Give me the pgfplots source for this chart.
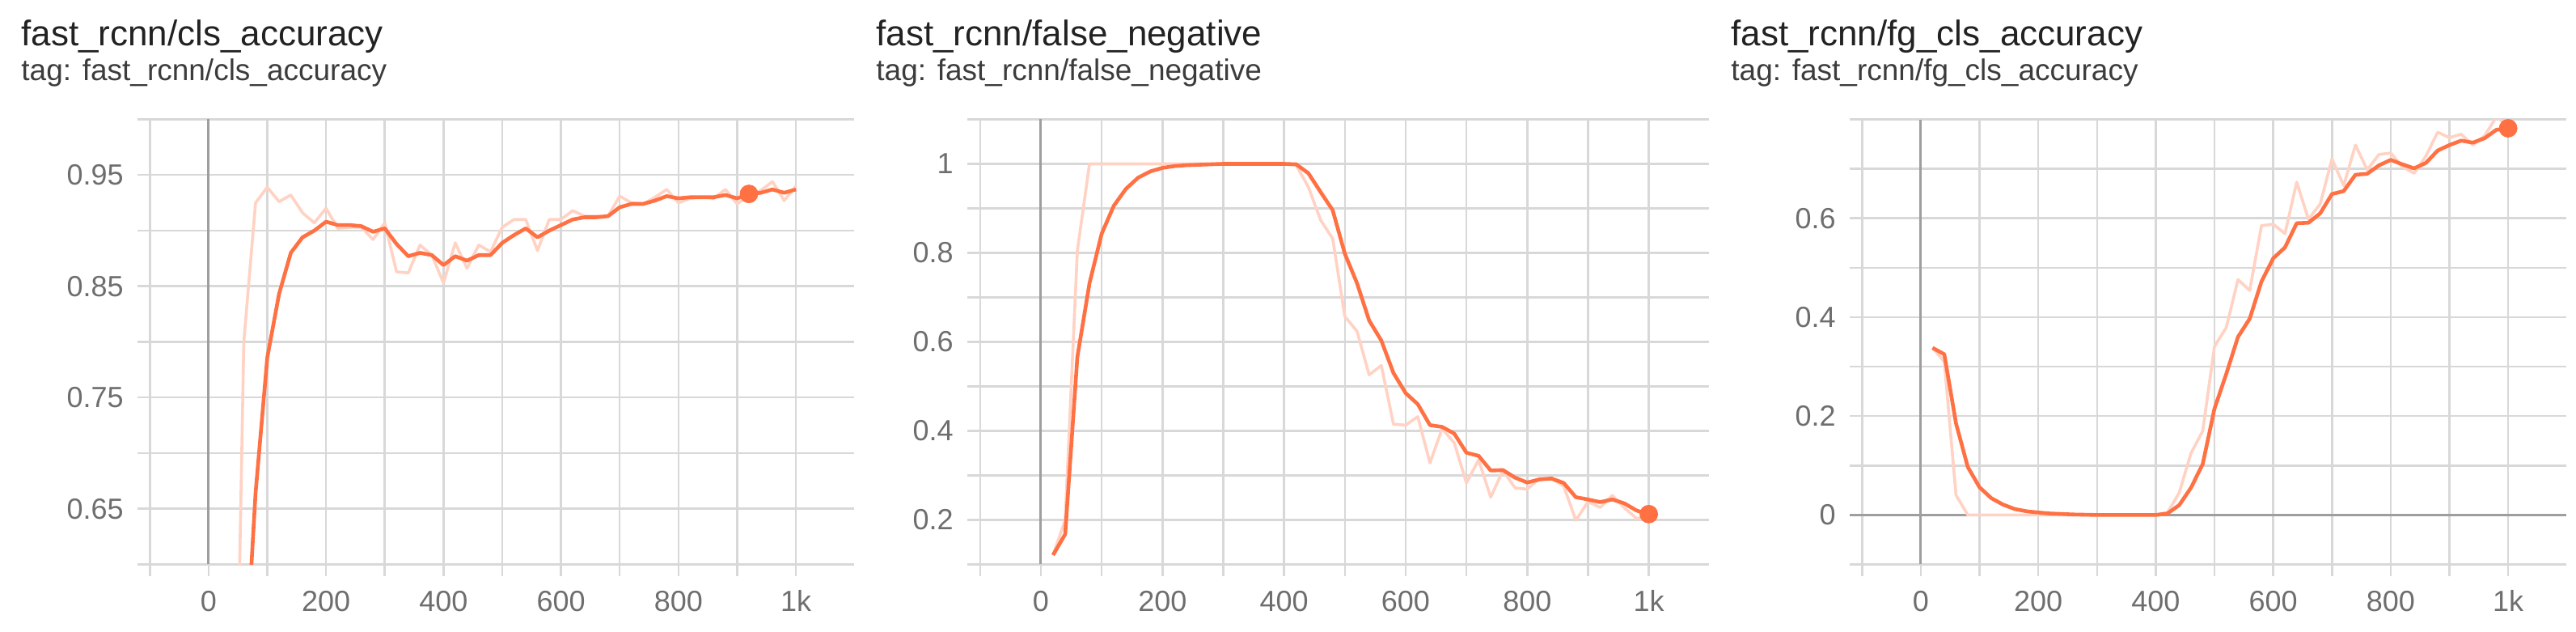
\documentclass[border=0pt]{standalone}
\usepackage{fontspec}
\setmainfont{Liberation Sans}
\usepackage{pgfplots}
\pgfplotsset{compat=1.18}
\usepackage{pgfplotstable}

\definecolor{tbor}{HTML}{FF7043}
\definecolor{tbraw}{HTML}{FFD2C4}
\definecolor{gridc}{HTML}{D8D8D8}
\definecolor{zeroc}{HTML}{9E9E9E}
\definecolor{titlec}{HTML}{222222}
\definecolor{subc}{HTML}{3C3C3C}
\definecolor{tickc}{HTML}{6E6E6E}

\pgfplotstableread{
x y
20 0.15
40 0.23
60 0.80
80 0.925
100 0.939
120 0.926
140 0.932
160 0.916
180 0.907
200 0.920
220 0.902
240 0.903
260 0.903
280 0.892
300 0.907
320 0.863
340 0.862
360 0.887
380 0.878
400 0.853
420 0.889
440 0.866
460 0.887
480 0.881
500 0.903
520 0.910
540 0.910
560 0.882
580 0.910
600 0.910
620 0.918
640 0.913
660 0.913
680 0.913
700 0.931
720 0.925
740 0.924
760 0.930
780 0.937
800 0.925
820 0.929
840 0.930
860 0.929
880 0.937
900 0.924
920 0.932
940 0.936
960 0.944
980 0.927
1000 0.940
}\rawA

\pgfplotstableread{
x y
20 0.15
40 0.19
60 0.481
80 0.664
100 0.786
120 0.843
140 0.880
160 0.894
180 0.900
200 0.908
220 0.905
240 0.905
260 0.904
280 0.899
300 0.902
320 0.888
340 0.877
360 0.880
380 0.878
400 0.869
420 0.877
440 0.873
460 0.878
480 0.878
500 0.889
520 0.896
540 0.902
560 0.894
580 0.900
600 0.905
620 0.910
640 0.912
660 0.912
680 0.913
700 0.921
720 0.924
740 0.924
760 0.927
780 0.931
800 0.929
820 0.930
840 0.930
860 0.930
880 0.932
900 0.929
920 0.933
940 0.934
960 0.937
980 0.934
1000 0.937
}\smA

\pgfplotstableread{
x y
20 0.121
40 0.20
60 0.805
80 1.0
100 1.0
120 1.0
140 1.0
160 1.0
180 1.0
200 1.0
220 1.0
240 1.0
260 1.0
280 1.0
300 1.0
320 1.0
340 1.0
360 1.0
380 1.0
400 1.0
420 0.997
440 0.948
460 0.874
480 0.832
500 0.657
520 0.624
540 0.526
560 0.547
580 0.415
600 0.413
620 0.432
640 0.328
660 0.405
680 0.373
700 0.283
720 0.335
740 0.251
760 0.311
780 0.272
800 0.269
820 0.293
840 0.293
860 0.276
880 0.199
900 0.241
920 0.228
940 0.255
960 0.227
980 0.203
1000 0.210
}\rawB

\pgfplotstableread{
x y
20 0.121
40 0.168
60 0.566
80 0.732
100 0.843
120 0.906
140 0.944
160 0.969
180 0.983
200 0.991
220 0.995
240 0.997
260 0.998
280 0.999
300 1.0
320 1.0
340 1.0
360 1.0
380 1.0
400 1.0
420 0.999
440 0.979
460 0.937
480 0.896
500 0.798
520 0.732
540 0.648
560 0.603
580 0.530
600 0.485
620 0.460
640 0.413
660 0.409
680 0.394
700 0.351
720 0.344
740 0.311
760 0.312
780 0.295
800 0.284
820 0.291
840 0.293
860 0.283
880 0.251
900 0.246
920 0.240
940 0.246
960 0.237
980 0.221
1000 0.213
}\smB

\pgfplotstableread{
x y
20 0.338
40 0.31
60 0.04
80 0.0
100 0.0
120 0.0
140 0.0
160 0.0
180 0.0
200 0.0
220 0.0
240 0.0
260 0.0
280 0.0
300 0.0
320 0.0
340 0.0
360 0.0
380 0.0
400 0.0
420 0.005
440 0.045
460 0.125
480 0.17
500 0.341
520 0.379
540 0.476
560 0.454
580 0.585
600 0.588
620 0.569
640 0.673
660 0.598
680 0.629
700 0.720
720 0.666
740 0.748
760 0.698
780 0.729
800 0.732
820 0.704
840 0.691
860 0.726
880 0.774
900 0.763
920 0.770
940 0.748
960 0.767
980 0.805
1000 0.787
}\rawC

\pgfplotstableread{
x y
20 0.338
40 0.325
60 0.185
80 0.097
100 0.056
120 0.034
140 0.021
160 0.012
180 0.0075
200 0.005
220 0.003
240 0.002
260 0.001
280 0.0005
300 0.0
320 0.0
340 0.0
360 0.0
380 0.0
400 0.0
420 0.003
440 0.020
460 0.055
480 0.103
500 0.215
520 0.285
540 0.360
560 0.397
580 0.472
600 0.519
620 0.541
640 0.590
660 0.591
680 0.610
700 0.649
720 0.655
740 0.688
760 0.690
780 0.707
800 0.718
820 0.709
840 0.701
860 0.712
880 0.737
900 0.748
920 0.757
940 0.753
960 0.762
980 0.779
1000 0.782
}\smC

\pgfplotsset{tbstyle/.style={
  scale only axis, height=275pt,
  axis line style={draw=none},
  grid=major, major grid style={gridc, line width=1.25pt},
  xtick pos=lower, xtick align=outside, major tick length=7.5pt,
  x tick style={gridc, line width=1.25pt},
  y tick style={draw=none},
  ticklabel style={font=\fontsize{18}{21}\selectfont, text=tickc},
  xticklabel style={anchor=north, inner sep=0pt, yshift=-8.5pt},
  yticklabel style={anchor=east, inner sep=0pt, xshift=-8.5pt},
  xmin=-121, xmax=1099,
  xtick={-100,100,200,300,400,500,600,700,800,900,1000,1100},
  xticklabels={,,200,,400,,600,,800,,1k,},
  extra x ticks={0}, extra x tick labels={0},
  extra x tick style={major grid style={zeroc, line width=1.5pt}},
  clip marker paths=false,
},
rawline/.style={tbraw, line width=1.8pt, line join=round},
smline/.style={tbor, line width=2.3pt, line join=round},
enddot/.style={only marks, mark=*, mark size=5.5pt, tbor, mark options={draw=tbor, fill=tbor}},
}

\newcommand{\ttl}[1]{\fontsize{22}{26}\selectfont\color{titlec}#1}
\newcommand{\sub}[1]{\fontsize{18.5}{22}\selectfont\color{subc}#1}

\begin{document}
\begin{tikzpicture}
\path[use as bounding box] (0,0) rectangle (1592.5pt,390.5pt);

% titles
\node[anchor=base west, inner sep=0pt] at (13pt,362pt) {\ttl{fast\_rcnn/cls\_accuracy}};
\node[anchor=base west, inner sep=0pt] at (13pt,340.5pt) {\sub{tag: fast\_rcnn/cls\_accuracy}};
\node[anchor=base west, inner sep=0pt] at (541.5pt,362pt) {\ttl{fast\_rcnn/false\_negative}};
\node[anchor=base west, inner sep=0pt] at (541.5pt,340.5pt) {\sub{tag: fast\_rcnn/false\_negative}};
\node[anchor=base west, inner sep=0pt] at (1070pt,362pt) {\ttl{fast\_rcnn/fg\_cls\_accuracy}};
\node[anchor=base west, inner sep=0pt] at (1070pt,340.5pt) {\sub{tag: fast\_rcnn/fg\_cls\_accuracy}};

% panel 1
\begin{axis}[tbstyle, at={(85pt,41.75pt)}, anchor=south west, width=443pt,
  ymin=0.6, ymax=1.0,
  ytick={0.6,0.65,0.7,0.75,0.8,0.85,0.9,0.95,1.0},
  yticklabels={,0.65,,0.75,,0.85,,0.95,}]
\addplot[rawline] table {\rawA};
\addplot[smline] table {\smA};
\addplot[enddot] coordinates {(920,0.933)};
\end{axis}

% panel 2
\begin{axis}[tbstyle, at={(598pt,41.75pt)}, anchor=south west, width=458.5pt,
  ymin=0.1, ymax=1.1,
  ytick={0.1,0.2,0.3,0.4,0.5,0.6,0.7,0.8,0.9,1.0,1.1},
  yticklabels={,0.2,,0.4,,0.6,,0.8,,1,}]
\addplot[rawline] table {\rawB};
\addplot[smline] table {\smB};
\addplot[enddot] coordinates {(1000,0.213)};
\end{axis}

% panel 3
\begin{axis}[tbstyle, at={(1143.5pt,41.75pt)}, anchor=south west, width=443pt,
  ymin=-0.1, ymax=0.8,
  ytick={-0.1,0.1,0.2,0.3,0.4,0.5,0.6,0.7,0.8},
  yticklabels={,,0.2,,0.4,,0.6,,},
  extra y ticks={0}, extra y tick labels={0},
  extra y tick style={major grid style={zeroc, line width=1.5pt}}]
\addplot[rawline] table {\rawC};
\addplot[smline] table {\smC};
\addplot[enddot] coordinates {(1000,0.782)};
\end{axis}
\end{tikzpicture}
\end{document}
